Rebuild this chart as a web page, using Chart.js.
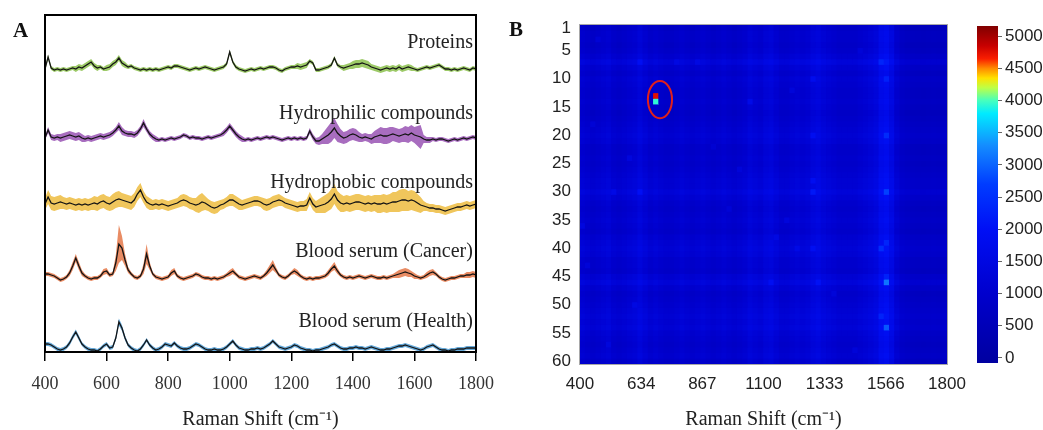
<!DOCTYPE html>
<html>
<head>
<meta charset="utf-8">
<script src="https://cdn.jsdelivr.net/npm/chart.js@4.4.1/dist/chart.umd.min.js"></script>
<style>
  html, body { margin: 0; padding: 0; background: #fff; }
  #wrap { position: relative; width: 1043px; height: 430px; overflow: hidden; }
  canvas { position: absolute; top: 0; }
  .tag { position: absolute; font: bold 21px "Liberation Serif", serif; line-height: 20px; color: #111; }
</style>
</head>
<body>
<div id="wrap">
  <canvas id="spectra" width="520" height="430" style="left:0"></canvas>
  <canvas id="heat" width="480" height="430" style="left:500px"></canvas>
  <canvas id="cbar" width="83" height="430" style="left:960px"></canvas>
  <div class="tag" style="left:13px;top:20px">A</div>
  <div class="tag" style="left:509px;top:19px">B</div>
</div>
<script>
// ---------- Panel A : mean spectra (10 cm-1 grid, 400..1800) ----------
const shiftStart = 400, shiftStep = 10;
const shiftTicks = [400, 600, 800, 1000, 1200, 1400, 1600, 1800];

const seriesNames = ['Proteins', 'Hydrophilic compounds', 'Hydrophobic compounds',
  'Blood serum (Cancer)', 'Blood serum (Health)'];

const proteinsMean = [
  1, 13, 2, 0, 1, 0, 1, 0, 1, 2,        // 400
  1, 3, 2, 4, 6, 8, 4, 2, 3, 1,         // 500
  2, 3, 6, 8, 12, 7, 5, 3, 4, 2,        // 600
  1, 0, 1, 0, 1, 0, 1, 0, 1, 2,         // 700
  3, 2, 4, 4, 3, 2, 1, 0, 1, 2,         // 800
  1, 2, 3, 2, 1, 0, 1, 2, 3, 6,         // 900
  18, 8, 3, 1, 0, -1, 0, 1, 0, 1,       // 1000
  2, 1, 2, 3, 3, 2, 0, -1, 1, 2,        // 1100
  3, 3, 4, 3, 4, 5, 9, 7, 0, 0,         // 1200
  1, 2, 3, 5, 12, 5, 3, 2, 3, 4,        // 1300
  5, 6, 6, 7, 6, 5, 3, 2, 1, 0,         // 1400
  1, 2, 1, 2, 1, 3, 1, 2, 3, 2,         // 1500
  1, 0, 1, 2, 3, 2, 3, 4, 5, 3,         // 1600
  1, 1, 0, 1, 0, 1, 2, 1, 0, 2,         // 1700
  1
];
const hydrophilicMean = [
  1, 9, 2, 1, 2, 1, 2, 3, 4, 3,
  2, 3, 1, 0, 1, 0, 1, 2, 3, 2,
  3, 4, 6, 9, 13, 8, 6, 5, 5, 4,
  6, 10, 16, 10, 5, 2, 0, -1, 0, -1,
  0, 1, 0, 1, 2, 4, 3, 1, 2, 1,
  1, 0, 1, 2, 1, 2, 3, 4, 6, 9,
  13, 9, 5, 2, 0, -1, 0, -1, 0, 1,
  0, 1, 2, 1, 2, 1, 0, -1, 0, 1,
  0, 1, 0, 1, 0, 1, 8, 2, -2, -2,
  0, 2, 4, 7, 11, 6, 3, 1, 2, 4,
  5, 4, 2, 1, 2, 1, 0, 2, 3, 4,
  3, 3, 4, 5, 4, 3, 4, 5, 4, 6,
  4, 3, 2, 0, -1, -1, 0, -1, 0, 0,
  -1, -2, -1, 0, -1, 0, 1, 0, 1, 2,
  1
];
const hydrophobicMean = [
  1, 8, 2, 1, 2, 3, 2, 1, 2, 1,
  0, 1, 0, 1, 0, 1, 2, 1, 3, 4,
  2, 1, 3, 5, 6, 5, 4, 3, 2, 5,
  11, 15, 8, 3, 1, 0, 1, 0, 1, 0,
  -1, 0, 1, 2, 4, 5, 4, 2, 1, 0,
  1, 3, 2, 0, -2, -3, -2, 0, 1, 3,
  5, 5, 3, 1, 0, 1, 2, 3, 4, 4,
  3, 1, 0, 1, 3, 4, 5, 4, 2, 1,
  0, -1, -2, -1, -1, 0, 7, 1, -2, -1,
  0, 1, 3, 6, 11, 5, 2, 1, 2, 1,
  2, 3, 3, 2, 1, 2, 1, 2, 1, 1,
  2, 1, 2, 3, 3, 4, 5, 5, 4, 5,
  4, 2, 0, -1, -2, -3, -3, -4, -4, -5,
  -6, -5, -4, -3, -2, -2, -1, 0, -1, 0,
  1
];
const cancerMean = [
  4, 4, 3, 2, 0, -2, -1, 1, 5, 12,
  20, 12, 5, 2, 0, -1, 0, 0, 2, 6,
  7, 3, 4, 15, 34, 30, 18, 8, 4, 1,
  0, 2, 9, 24, 12, 4, 1, 0, -1, 0,
  1, 5, 7, 2, 0, -1, 0, 1, 2, 4,
  3, 1, 0, 0, -1, 0, -1, 0, 1, 3,
  5, 7, 4, 1, 0, -1, 0, 1, 2, 1,
  0, 2, 5, 9, 13, 8, 3, 1, 0, 2,
  5, 7, 5, 2, 0, -1, 0, -1, 0, 0,
  1, 2, 5, 9, 12, 7, 3, 1, 0, 1,
  0, 1, 2, 1, 0, 1, 2, 1, 0, 0,
  1, 0, 1, 2, 3, 4, 5, 6, 5, 4,
  2, 1, 0, 1, 3, 5, 6, 4, 1, -1,
  -2, -1, 0, 0, 1, 2, 2, 3, 3, 4,
  3
];
const healthMean = [
  6, 6, 5, 3, 1, 0, 1, 3, 7, 13,
  18, 12, 6, 3, 1, 0, 0, -1, 1, 4,
  6, 2, 3, 12, 28, 22, 12, 5, 2, 0,
  -1, 1, 5, 10, 5, 2, 0, 1, 3, 6,
  5, 4, 7, 4, 2, 1, 1, 2, 4, 6,
  5, 3, 1, 0, 0, 1, 0, 0, 1, 3,
  6, 9, 5, 2, 1, 0, 0, 1, 1, 2,
  1, 2, 4, 6, 9, 6, 3, 2, 1, 2,
  3, 5, 4, 2, 1, 0, 0, -1, 0, 0,
  1, 2, 3, 5, 6, 4, 2, 1, 1, 2,
  2, 3, 2, 2, 1, 2, 3, 2, 1, 0,
  0, 1, 1, 2, 3, 4, 4, 5, 4, 3,
  2, 1, 0, 1, 3, 4, 5, 3, 1, 0,
  0, -1, 0, 0, 1, 1, 1, 2, 2, 2,
  2
];

// half-width of the shaded band, same grid
const proteinsSpread = [
  2, 2, 2, 2, 2, 2, 2, 2, 2, 2,
  3, 3, 3, 3, 3, 3, 3, 3, 2, 2,
  3, 3, 3, 3, 3, 3, 3, 2, 2, 2,
  2, 2, 2, 2, 2, 2, 2, 2, 2, 2,
  2, 2, 2, 2, 2, 2, 2, 2, 2, 2,
  2, 2, 2, 2, 2, 2, 2, 2, 2, 2,
  2, 2, 2, 2, 2, 2, 2, 2, 2, 2,
  2, 2, 2, 2, 2, 2, 2, 2, 2, 2,
  2, 2, 3, 3, 3, 3, 2, 2, 2, 2,
  2, 2, 2, 2, 2, 2, 2, 3, 3, 3,
  4, 4, 4, 4, 4, 4, 3, 3, 3, 3,
  3, 3, 3, 3, 3, 3, 3, 3, 3, 3,
  2, 2, 2, 2, 2, 2, 2, 2, 2, 2,
  2, 2, 2, 2, 2, 2, 2, 2, 2, 2,
  2
];
const hydrophilicSpread = [
  2, 3, 3, 3, 3, 4, 4, 4, 4, 4,
  4, 4, 4, 3, 3, 3, 3, 3, 3, 3,
  3, 3, 3, 3, 4, 4, 3, 3, 3, 3,
  3, 3, 4, 3, 3, 3, 3, 2, 2, 2,
  2, 2, 2, 2, 2, 2, 2, 2, 2, 2,
  2, 2, 2, 2, 2, 2, 2, 2, 3, 3,
  3, 3, 3, 3, 3, 2, 2, 2, 2, 2,
  2, 2, 2, 2, 2, 2, 2, 2, 2, 2,
  2, 2, 2, 2, 2, 2, 3, 3, 3, 4,
  5, 7, 9, 10, 10, 9, 7, 6, 6, 6,
  6, 6, 5, 4, 4, 4, 5, 6, 7, 8,
  8, 8, 8, 7, 7, 7, 7, 8, 8, 8,
  8, 10, 12, 4, 3, 3, 2, 2, 2, 2,
  2, 2, 2, 2, 2, 2, 2, 2, 2, 2,
  2
];
const hydrophobicSpread = [
  6, 7, 7, 7, 7, 7, 6, 6, 6, 6,
  6, 6, 6, 6, 6, 6, 7, 7, 7, 7,
  7, 7, 8, 8, 8, 7, 7, 7, 7, 7,
  7, 7, 6, 6, 6, 5, 5, 5, 5, 5,
  5, 5, 5, 5, 6, 6, 6, 6, 6, 7,
  9, 9, 7, 6, 6, 6, 6, 5, 5, 5,
  6, 6, 6, 6, 5, 5, 5, 5, 5, 5,
  5, 6, 6, 6, 6, 6, 6, 5, 5, 5,
  5, 5, 5, 5, 5, 6, 6, 6, 6, 7,
  8, 9, 9, 10, 10, 9, 9, 8, 8, 8,
  8, 8, 8, 8, 8, 8, 8, 8, 9, 9,
  9, 9, 9, 10, 10, 11, 11, 11, 10, 10,
  10, 9, 8, 5, 4, 4, 4, 4, 4, 4,
  4, 4, 4, 4, 4, 4, 4, 4, 4, 4,
  4
];
const cancerSpread = [
  2, 2, 2, 2, 2, 2, 2, 2, 3, 4,
  4, 4, 3, 2, 2, 2, 2, 2, 2, 3,
  3, 2, 2, 8, 19, 12, 6, 3, 2, 2,
  2, 2, 5, 10, 4, 2, 2, 2, 2, 2,
  2, 3, 3, 2, 2, 2, 2, 2, 2, 2,
  2, 2, 2, 2, 2, 2, 2, 2, 2, 2,
  3, 3, 2, 2, 2, 2, 2, 2, 2, 2,
  2, 2, 3, 4, 5, 3, 2, 2, 2, 2,
  2, 3, 3, 2, 2, 2, 2, 2, 2, 2,
  2, 2, 3, 3, 4, 3, 2, 2, 2, 2,
  2, 2, 2, 2, 2, 2, 2, 2, 2, 2,
  2, 2, 2, 2, 3, 4, 4, 4, 4, 3,
  3, 2, 2, 2, 3, 3, 3, 2, 2, 2,
  2, 2, 2, 2, 2, 2, 2, 3, 3, 3,
  3
];
const healthSpread = [
  2, 2, 2, 2, 2, 2, 2, 2, 2.5, 2.5,
  2.5, 2.5, 2, 2, 2, 2, 2, 2, 2, 2,
  2, 2, 2, 2.5, 3.5, 3, 2.5, 2, 2, 2,
  2, 2, 2, 2, 2, 2, 2, 2, 2, 2,
  2, 2, 2, 2, 2, 2, 2, 2, 2, 2,
  2, 2, 2, 2, 2, 2, 2, 2, 2, 2,
  2, 2, 2, 2, 2, 2, 2, 2, 2, 2,
  2, 2, 2, 2, 2, 2, 2, 2, 2, 2,
  2, 2, 2, 2, 2, 2, 2, 2, 2, 2,
  2, 2, 2, 2, 2, 2, 2, 2, 2, 2,
  2, 2, 2, 2, 2, 2, 2, 2, 2, 2,
  2, 2, 2, 2, 2, 2, 2, 2, 2, 2,
  2, 2, 2, 2, 2, 2, 2, 2, 2, 2,
  2, 2, 2, 2, 2, 2, 2, 2, 2, 2,
  2
];

const seriesMeans = [proteinsMean, hydrophilicMean, hydrophobicMean, cancerMean, healthMean];
const seriesSpreads = [proteinsSpread, hydrophilicSpread, hydrophobicSpread, cancerSpread, healthSpread];

// ---------- Panel B : intensity map ----------
const mapStart = 410, mapStep = 20;        // column centres, 70 columns of 20 cm-1
const mapTicks = [400, 633.33, 866.67, 1100, 1333.33, 1566.67, 1800];
const mapTickLabels = ['400', '634', '867', '1100', '1333', '1566', '1800'];
const rowTicks = [1, 5, 10, 15, 20, 25, 30, 35, 40, 45, 50, 55, 60];

// typical level of each Raman-shift column
const colLevels = [
  1000, 900, 820, 900, 1000, 1080, 900, 820, 900, 1000,
  1080, 1250, 1080, 900, 1000, 900, 820, 820, 900, 1000,
  900, 820, 900, 1000, 900, 820, 900, 1000, 900, 820,
  900, 1000, 1170, 1080, 1000, 1170, 1250, 1080, 900, 900,
  1000, 1080, 1000, 1080, 1250, 1350, 1170, 1080, 1000, 900,
  900, 900, 900, 1000, 1080, 1170, 1300, 1650, 1750, 1450,
  1000, 780, 700, 680, 660, 650, 660, 680, 660, 700
];
// extra level of each sample row (1..60)
const rowLevels = [
  -80, 0, 0, -80, 0, 150, 380, 150, 0, 150,
  80, 0, 0, 80, 0, -80, 0, 80, 150, 220,
  150, 0, 0, 80, 0, 80, 150, 220, 220, 380,
  220, 80, 0, 80, 150, 80, 0, 150, 220, 300,
  220, 80, 80, 0, 220, 380, 150, 0, 80, 150,
  220, 300, 220, 300, 150, 80, 0, 80, 150, 0
];
// isolated bright cells: [row, shift, extra]
const heatSpots = [
  [13, 690, 3750], [14, 690, 2850],
  [7, 1550, 300], [10, 1570, 350], [20, 1570, 450], [30, 1570, 600], [39, 1570, 350],
  [40, 1550, 500], [45, 1570, 300], [46, 1570, 1000], [52, 1550, 350], [54, 1570, 850],
  [10, 1290, 400], [20, 1290, 400], [28, 1290, 400], [30, 1290, 500], [40, 1290, 350],
  [46, 1310, 300], [14, 1050, 400], [30, 530, 350], [30, 630, 350], [7, 630, 300],
  [35, 1190, 300], [46, 1130, 300], [40, 1230, 250], [33, 970, 300], [7, 770, 250], [7, 850, 250],
  [3, 470, 300], [18, 450, 300], [24, 590, 300], [36, 410, 350], [43, 430, 300], [50, 610, 300],
  [57, 510, 300], [22, 910, 300], [26, 1010, 300], [48, 1370, 300], [38, 1150, 300],
  [12, 1210, 300], [58, 1450, 300], [5, 1470, 250]
];
const cbMin = -80, cbMax = 5160;
const cbTicks = [0, 500, 1000, 1500, 2000, 2500, 3000, 3500, 4000, 4500, 5000];

// jet-like colour map of the figure
const colorStops = [
  [-80, [0, 0, 160]], [1000, [0, 0, 205]], [2000, [0, 15, 245]], [2700, [0, 60, 255]],
  [3300, [20, 140, 255]], [3800, [0, 235, 255]], [4000, [70, 255, 190]], [4200, [190, 255, 70]],
  [4350, [255, 225, 0]], [4500, [255, 140, 0]], [4650, [250, 30, 0]], [4850, [200, 0, 0]],
  [5160, [128, 0, 0]]
];

// ---------- style / layout ----------
const serif = "'Liberation Serif', serif";
const sans = "'Liberation Sans', Arial, sans-serif";
const offsets = [282, 213, 147, 74, 2];        // vertical stacking of the spectra
const labelLift = [27, 25, 22, 26, 28];
const labelShift = 1790;
const bandColors = ['#9dca68', '#a86dbf', '#f0c65c', '#e98c64', '#66a9d9'];

function jet(v) {
  if (v <= colorStops[0][0]) return `rgb(${colorStops[0][1].join(',')})`;
  for (let i = 1; i < colorStops.length; i++) {
    const [v1, c1] = colorStops[i];
    if (v <= v1) {
      const [v0, c0] = colorStops[i - 1];
      const t = (v - v0) / (v1 - v0);
      return `rgb(${c0.map((c, j) => Math.round(c + (c1[j] - c) * t)).join(',')})`;
    }
  }
  return `rgb(${colorStops[colorStops.length - 1][1].join(',')})`;
}

Chart.defaults.animation = false;
Chart.defaults.events = [];
Chart.defaults.plugins.legend.display = false;
Chart.defaults.plugins.tooltip.enabled = false;

/* =========================
   PANEL A
========================= */
const shifts = proteinsMean.map((_, i) => shiftStart + i * shiftStep);
const spectraSets = [];

seriesMeans.forEach((mean, k) => {
  spectraSets.push({
    data: mean.map((v, i) => ({ x: shifts[i], y: offsets[k] + v })),
    borderColor: '#141414', borderWidth: 1.3, pointRadius: 0, fill: false, order: 0
  });
});
seriesMeans.forEach((mean, k) => {
  const spread = seriesSpreads[k];
  spectraSets.push({
    data: mean.map((v, i) => ({ x: shifts[i], y: offsets[k] + v + spread[i] })),
    borderWidth: 0, borderColor: 'transparent', backgroundColor: bandColors[k],
    pointRadius: 0, fill: '+1', order: 1
  });
  spectraSets.push({
    data: mean.map((v, i) => ({ x: shifts[i], y: offsets[k] + v - spread[i] })),
    borderWidth: 0, borderColor: 'transparent', pointRadius: 0, fill: false, order: 1
  });
});

const spectraDecor = {
  id: 'spectraDecor',
  afterDraw(chart) {
    const { ctx, chartArea: a, scales: { x, y } } = chart;
    ctx.save();
    ctx.strokeStyle = '#000';
    ctx.lineWidth = 2;
    ctx.strokeRect(a.left, a.top, a.right - a.left, a.bottom - a.top);
    ctx.fillStyle = '#222';
    ctx.font = '20px ' + serif;
    ctx.textAlign = 'right';
    ctx.textBaseline = 'middle';
    seriesNames.forEach((name, k) => {
      ctx.fillText(name, x.getPixelForValue(labelShift), y.getPixelForValue(offsets[k] + labelLift[k]));
    });
    ctx.restore();
  }
};

new Chart(document.getElementById('spectra'), {
  type: 'line',
  data: { datasets: spectraSets },
  options: {
    responsive: false,
    devicePixelRatio: 1,
    layout: { padding: { left: 45, right: 44, top: 15, bottom: 0 } },
    scales: {
      x: {
        type: 'linear', min: 400, max: 1800,
        afterBuildTicks: s => { s.ticks = shiftTicks.map(v => ({ value: v })); },
        afterFit: s => { s.height = 78; },
        ticks: { callback: v => String(v), font: { family: serif, size: 18 }, color: '#333',
          padding: 12, maxRotation: 0 },
        grid: { drawOnChartArea: false, drawTicks: true, tickLength: 9, color: '#000', lineWidth: 1.5 },
        border: { display: false },
        title: { display: true, text: 'Raman Shift (cm⁻¹)', font: { family: serif, size: 20 },
          color: '#222', padding: { top: 4, bottom: -2 } }
      },
      y: { display: false, min: 0, max: 337 }
    }
  },
  plugins: [spectraDecor]
});

/* =========================
   PANEL B - HEAT MAP
========================= */
const mapShifts = colLevels.map((_, i) => mapStart + i * mapStep);

function spotAt(row, shift) {
  let extra = 0;
  heatSpots.forEach(([r, s, e]) => { if (r === row && s === shift) extra += e; });
  return extra;
}

const heatSets = rowLevels.map((rowLevel, r) => ({
  data: mapShifts.map((s, c) => ({ x: s, y: 1, v: colLevels[c] + rowLevel + spotAt(r + 1, s) })),
  backgroundColor: ctx => jet(ctx.raw ? ctx.raw.v : 0),
  borderWidth: 0,
  barPercentage: 1,
  categoryPercentage: 1
}));

const heatDecor = {
  id: 'heatDecor',
  beforeDatasetsDraw(chart) {
    const { ctx, chartArea: a } = chart;
    ctx.save();
    ctx.fillStyle = jet(900);
    ctx.fillRect(a.left, a.top, a.right - a.left, a.bottom - a.top);
    ctx.restore();
  },
  afterDatasetsDraw(chart) {
    const { ctx, chartArea: a, scales: { x, y } } = chart;
    ctx.save();
    ctx.strokeStyle = '#a8a8a8';
    ctx.lineWidth = 1;
    ctx.strokeRect(a.left - 0.5, a.top - 0.5, a.right - a.left + 1, a.bottom - a.top + 1);
    // circled outlier
    const cx = x.getPixelForValue(705), cy = y.getPixelForValue(13.2);
    const rx = Math.abs(x.getPixelForValue(751) - cx);
    const ry = Math.abs(y.getPixelForValue(16.5) - cy);
    ctx.strokeStyle = '#e0201c';
    ctx.lineWidth = 2;
    ctx.beginPath();
    ctx.ellipse(cx, cy, rx, ry, 0, 0, Math.PI * 2);
    ctx.stroke();
    ctx.restore();
  }
};

new Chart(document.getElementById('heat'), {
  type: 'bar',
  data: { datasets: heatSets },
  options: {
    responsive: false,
    devicePixelRatio: 1,
    layout: { padding: { left: 0, right: 33, top: 25, bottom: 0 } },
    scales: {
      x: {
        type: 'linear', min: 400, max: 1800, offset: false, stacked: true,
        afterBuildTicks: s => { s.ticks = mapTicks.map(v => ({ value: v })); },
        afterFit: s => { s.height = 66; },
        ticks: { callback: (v, i) => mapTickLabels[i], font: { family: sans, size: 17 },
          color: '#222', padding: 10, maxRotation: 0, autoSkip: false },
        grid: { display: false, drawTicks: false },
        border: { display: false },
        title: { display: true, text: 'Raman Shift (cm⁻¹)', font: { family: serif, size: 20 },
          color: '#222', padding: { top: 4, bottom: -2 } }
      },
      y: {
        min: 0, max: 60, reverse: true, stacked: true,
        afterBuildTicks: s => { s.ticks = rowTicks.map(r => ({ value: r - 0.5 })); },
        afterFit: s => { s.width = 80; },
        ticks: { callback: (v, i) => String(rowTicks[i]), font: { family: sans, size: 17 },
          color: '#222', padding: 9, autoSkip: false },
        grid: { display: false, drawTicks: false },
        border: { display: false }
      }
    }
  },
  plugins: [heatDecor]
});

/* =========================
   COLOUR BAR
========================= */
new Chart(document.getElementById('cbar'), {
  type: 'bar',
  data: {
    labels: [''],
    datasets: [{
      data: [[cbMin, cbMax]],
      borderWidth: 0,
      barPercentage: 1,
      categoryPercentage: 1,
      backgroundColor: ctx => {
        const chart = ctx.chart;
        const y = chart.scales.y;
        if (!chart.chartArea || !y) return jet(0);
        const g = chart.ctx.createLinearGradient(0, y.getPixelForValue(cbMin), 0, y.getPixelForValue(cbMax));
        colorStops.forEach(([v, c]) => g.addColorStop((v - cbMin) / (cbMax - cbMin), `rgb(${c.join(',')})`));
        return g;
      }
    }]
  },
  options: {
    responsive: false,
    devicePixelRatio: 1,
    layout: { padding: { left: 17, right: 0, top: 26, bottom: 67 } },
    scales: {
      x: { display: false },
      y: {
        position: 'right', min: cbMin, max: cbMax,
        afterBuildTicks: s => { s.ticks = cbTicks.map(v => ({ value: v })); },
        afterFit: s => { s.width = 45; },
        ticks: { callback: v => String(v), font: { family: sans, size: 17 }, color: '#222',
          padding: 3, autoSkip: false },
        grid: { drawOnChartArea: false, drawTicks: true, tickLength: 4, color: '#666' },
        border: { display: false }
      }
    }
  }
});
</script>
</body>
</html>
